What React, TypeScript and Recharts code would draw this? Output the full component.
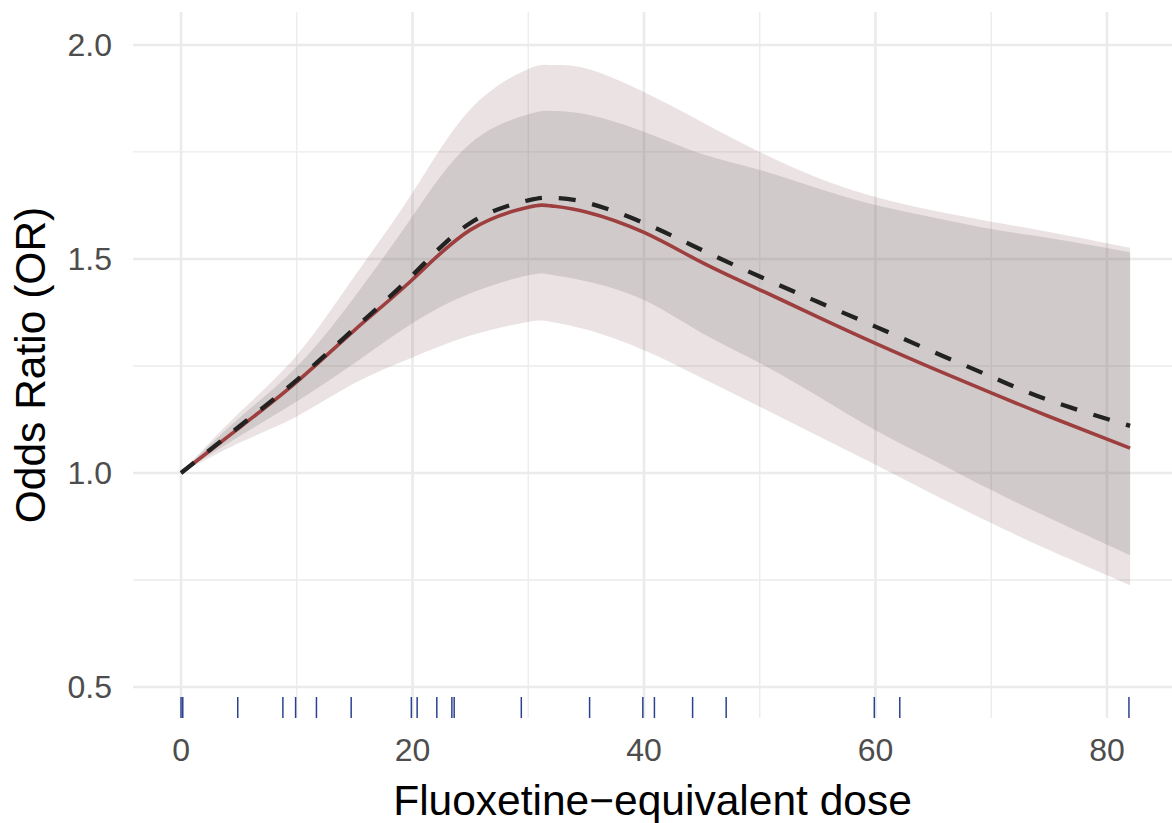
import {
  Area,
  ComposedChart,
  Line,
  ReferenceLine,
  Scatter,
  XAxis,
  YAxis,
} from 'recharts'

// dose grid the curves were read at
const doses = [0, 5, 10, 15, 20, 25, 30, 32, 35, 40, 45, 50, 55, 60, 65, 70, 75, 82]

// solid red estimate and dashed comparison curve
const estimate = [1.0, 1.105, 1.213, 1.334, 1.452, 1.568, 1.621, 1.624, 1.61, 1.562, 1.492, 1.428, 1.365, 1.303, 1.244, 1.187, 1.132, 1.058]
const dashedEstimate = [1.0, 1.108, 1.217, 1.338, 1.462, 1.584, 1.637, 1.643, 1.632, 1.584, 1.521, 1.459, 1.4, 1.342, 1.283, 1.225, 1.17, 1.11]

// wide (light) band
const outerLow = [1.0, 1.07, 1.132, 1.21, 1.27, 1.321, 1.353, 1.353, 1.335, 1.287, 1.222, 1.155, 1.087, 1.019, 0.95, 0.883, 0.82, 0.738]
const outerHigh = [1.0, 1.14, 1.275, 1.46, 1.655, 1.85, 1.944, 1.953, 1.945, 1.89, 1.82, 1.75, 1.69, 1.645, 1.613, 1.587, 1.563, 1.526]

// narrow (grey) band
const innerLow = [1.0, 1.085, 1.167, 1.257, 1.35, 1.42, 1.462, 1.463, 1.448, 1.404, 1.327, 1.257, 1.18, 1.1, 1.03, 0.96, 0.895, 0.808]
const innerHigh = [1.0, 1.128, 1.248, 1.412, 1.6, 1.77, 1.838, 1.846, 1.838, 1.797, 1.745, 1.708, 1.665, 1.626, 1.597, 1.57, 1.549, 1.516]

// observed doses shown as a rug
const rugDoses = [0, 0.15, 4.9, 8.8, 9.9, 11.7, 14.7, 19.9, 20.4, 22.1, 23.4, 23.6, 29.4, 35.3, 39.9, 40.9, 44.2, 47.1, 59.9, 62.1, 81.9]

const xTicks = [0, 20, 40, 60, 80]
const xMinor = [10, 30, 50, 70]
const yTicks = [0.5, 1.0, 1.5, 2.0]
const yMinor = [0.75, 1.25, 1.75]

const X_DOMAIN: [number, number] = [-4.15, 85.62]
const Y_DOMAIN: [number, number] = [0.4276, 2.077]

const FONT = '"Liberation Sans", Arial, Helvetica, sans-serif'
const GRID = '#EBEBEB'

const data = doses.map((dose, i) => ({
  dose,
  outer: [outerLow[i], outerHigh[i]],
  inner: [innerLow[i], innerHigh[i]],
  estimate: estimate[i],
  dashed: dashedEstimate[i],
}))

const rugData = rugDoses.map((dose) => ({ dose, y: Y_DOMAIN[0] }))

function RugTick(props: any) {
  const { cx, cy } = props
  return <line x1={cx} x2={cx} y1={cy} y2={cy - 21} stroke="#2B4190" strokeWidth={1.5} />
}

function XTitle(props: any) {
  const { viewBox } = props
  return (
    <text
      x={viewBox.x + viewBox.width / 2}
      y={viewBox.y + 97}
      textAnchor="middle"
      fontSize={42.5}
      fontFamily={FONT}
      fill="#000"
    >
      Fluoxetine−equivalent dose
    </text>
  )
}

function YTitle(props: any) {
  const { viewBox } = props
  const x = viewBox.x + 45
  const y = viewBox.y + viewBox.height / 2
  return (
    <text
      x={x}
      y={y}
      transform={`rotate(-90 ${x} ${y})`}
      textAnchor="middle"
      fontSize={42.5}
      fontFamily={FONT}
      fill="#000"
    >
      Odds Ratio (OR)
    </text>
  )
}

export default function App() {
  return (
    <div style={{ position: 'absolute', left: 0, top: 0, width: 1172, height: 823, background: '#fff' }}>
      <ComposedChart width={1172} height={823} data={data} margin={{ top: 12, right: 0, bottom: 0, left: 0 }}>
        {xMinor.map((v) => (
          <ReferenceLine key={`xm${v}`} x={v} stroke={GRID} strokeWidth={1.3} zIndex={-100} />
        ))}
        {yMinor.map((v) => (
          <ReferenceLine key={`ym${v}`} y={v} stroke={GRID} strokeWidth={1.3} zIndex={-100} />
        ))}
        {xTicks.map((v) => (
          <ReferenceLine key={`xM${v}`} x={v} stroke={GRID} strokeWidth={2.6} zIndex={-100} />
        ))}
        {yTicks.map((v) => (
          <ReferenceLine key={`yM${v}`} y={v} stroke={GRID} strokeWidth={2.6} zIndex={-100} />
        ))}
        <XAxis
          type="number"
          dataKey="dose"
          domain={X_DOMAIN}
          ticks={xTicks}
          interval={0}
          allowDataOverflow
          axisLine={false}
          tickLine={false}
          tickSize={0}
          tickMargin={20}
          height={105}
          tick={{ fill: '#4D4D4D', fontSize: 32, fontFamily: FONT }}
          label={XTitle}
        />
        <YAxis
          type="number"
          domain={Y_DOMAIN}
          ticks={yTicks}
          interval={0}
          allowDataOverflow
          axisLine={false}
          tickLine={false}
          tickSize={0}
          tickMargin={21}
          width={133}
          tickFormatter={(v: number) => v.toFixed(1)}
          tick={{ fill: '#4D4D4D', fontSize: 32, fontFamily: FONT }}
          label={YTitle}
        />
        <Area
          type="natural"
          dataKey="outer"
          stroke="none"
          fill="#7A4444"
          fillOpacity={0.15}
          isAnimationActive={false}
        />
        <Area
          type="natural"
          dataKey="inner"
          stroke="none"
          fill="#696B70"
          fillOpacity={0.2}
          isAnimationActive={false}
        />
        <Line
          type="natural"
          dataKey="estimate"
          stroke="#9E3F3F"
          strokeWidth={3.6}
          dot={false}
          activeDot={false}
          isAnimationActive={false}
        />
        <Line
          type="natural"
          dataKey="dashed"
          stroke="#222222"
          strokeWidth={4.3}
          strokeDasharray="17 17"
          dot={false}
          activeDot={false}
          isAnimationActive={false}
        />
        <Scatter data={rugData} dataKey="y" shape={RugTick} isAnimationActive={false} />
      </ComposedChart>
    </div>
  )
}
